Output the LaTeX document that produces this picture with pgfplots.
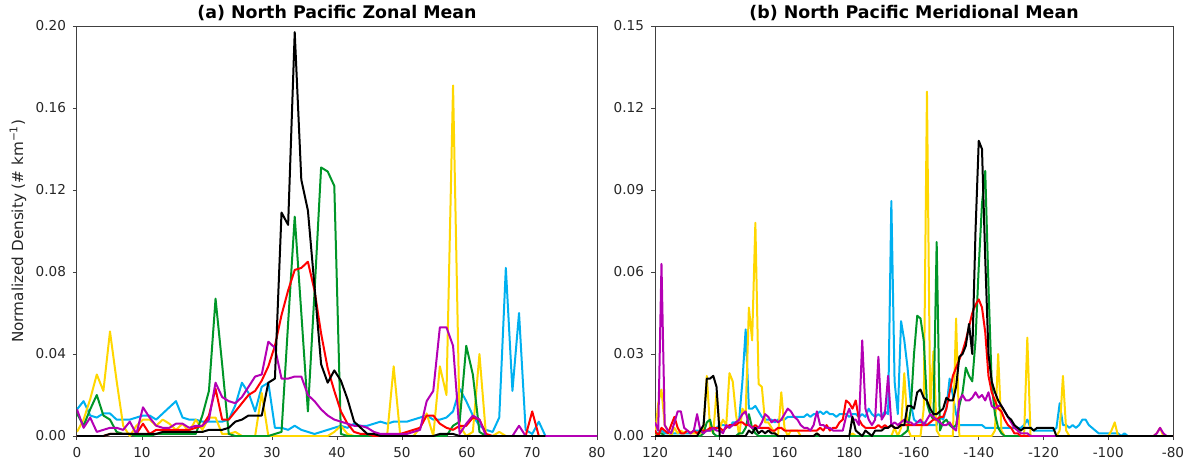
\documentclass[border=0pt]{standalone}
\usepackage{pgfplots}
\usepackage{pgfplotstable}
\pgfplotsset{compat=1.18}
\usepackage{fontspec}
\setmainfont{DejaVu Sans}
\definecolor{cyanc}{RGB}{0,176,240}
\definecolor{yelc}{RGB}{255,215,0}
\definecolor{grc}{RGB}{0,150,40}
\definecolor{rec}{RGB}{255,0,0}
\definecolor{mac}{RGB}{180,0,180}

\pgfplotstableread{
i cy ye gr re ma bk
0 .013 .002 .011 .000 .013 .000
1 .017 .008 .005 .000 .004 .000
2 .010 .018 .013 .000 .009 .000
3 .009 .030 .020 .000 .002 .000
4 .011 .022 .010 .000 .003 .000
5 .011 .051 .008 .001 .004 .001
6 .008 .027 .002 .001 .004 .001
7 .008 .005 .001 .001 .003 .001
8 .008 .000 .001 .001 .007 .001
9 .009 .005 .000 .001 .001 .001
10 .010 .008 .000 .006 .014 .001
11 .010 .008 .000 .001 .009 .001
12 .008 .005 .001 .003 .005 .001
13 .011 .008 .001 .003 .004 .002
14 .014 .006 .001 .003 .004 .002
15 .017 .003 .001 .003 .006 .002
16 .009 .006 .001 .003 .006 .002
17 .008 .002 .001 .003 .004 .002
18 .008 .008 .001 .004 .005 .002
19 .007 .003 .010 .005 .005 .002
20 .007 .009 .022 .010 .008 .003
21 .007 .009 .067 .023 .026 .003
22 .007 .001 .035 .008 .019 .003
23 .008 .001 .001 .008 .017 .004
24 .015 .002 .000 .012 .016 .007
25 .026 .000 .000 .016 .019 .008
26 .021 .000 .000 .020 .024 .010
27 .012 .000 .000 .022 .029 .010
28 .024 .021 .000 .027 .030 .010
29 .026 .000 .000 .034 .046 .026
30 .004 .000 .001 .044 .043 .028
31 .004 .000 .002 .059 .028 .109
32 .003 .000 .055 .071 .028 .103
33 .005 .000 .107 .081 .029 .197
34 .003 .000 .060 .082 .029 .125
35 .002 .000 .012 .085 .020 .110
36 .001 .000 .070 .071 .017 .073
37 .002 .000 .131 .050 .013 .035
38 .003 .000 .129 .033 .010 .026
39 .004 .002 .122 .022 .008 .032
40 .005 .005 .001 .012 .007 .027
41 .004 .001 .000 .006 .006 .018
42 .006 .000 .000 .002 .005 .007
43 .005 .000 .000 .001 .005 .004
44 .005 .000 .000 .001 .004 .001
45 .006 .000 .000 .000 .002 .001
46 .007 .000 .000 .000 .001 .000
47 .006 .000 .000 .000 .001 .000
48 .007 .034 .000 .000 .001 .000
49 .007 .000 .000 .001 .001 .000
50 .007 .000 .000 .002 .001 .000
51 .008 .000 .000 .003 .002 .000
52 .009 .004 .000 .004 .003 .000
53 .010 .011 .000 .010 .017 .000
54 .008 .000 .000 .010 .022 .000
55 .008 .034 .000 .006 .053 .001
56 .009 .020 .000 .004 .053 .001
57 .012 .171 .005 .003 .044 .001
58 .023 .005 .007 .005 .001 .000
59 .017 .000 .044 .005 .006 .000
60 .010 .002 .030 .009 .010 .000
61 .005 .040 .002 .008 .008 .000
62 .003 .000 .000 .001 .000 .000
63 .002 .000 .000 .000 .000 .000
64 .009 .002 .000 .000 .000 .000
65 .082 .000 .000 .000 .000 .000
66 .022 .000 .000 .000 .000 .000
67 .060 .000 .000 .000 .005 .000
68 .003 .000 .000 .000 .000 .000
69 .001 .000 .000 .012 .000 .000
70 .007 .000 .000 .000 .000 .000
71 .000 .000 .000 .000 .000 .000
72 nan nan nan nan .000 nan
73 nan nan nan nan .000 nan
74 nan nan nan nan .000 nan
75 nan nan nan nan .000 nan
76 nan nan nan nan .000 nan
77 nan nan nan nan .000 nan
78 nan nan nan nan .000 nan
79 nan nan nan nan .000 nan
}\leftdata

\pgfplotstableread{
lon cy ye gr re ma bk
120 .003 .000 .001 .002 .005 .000
121 .002 .012 .001 .000 .002 .000
122 .002 .017 .001 .003 .063 .000
123 .001 .004 .000 .002 .004 .000
124 .001 .002 .000 .001 .002 .000
125 .001 .000 .000 .004 .001 .000
126 .001 .003 .000 .007 .005 .000
127 .001 .001 .000 .003 .009 .000
128 .001 .002 .000 .001 .009 .000
129 .001 .001 .000 .001 .003 .000
130 .001 .002 .000 .002 .002 .000
131 .001 .001 .000 .001 .001 .000
132 .002 .001 .000 .002 .002 .000
133 .002 .001 .000 .001 .008 .000
134 .002 .001 .000 .002 .002 .002
135 .002 .003 .001 .002 .001 .004
136 .002 .022 .005 .002 .002 .021
137 .002 .003 .006 .003 .002 .021
138 .002 .001 .001 .003 .003 .022
139 .003 .016 .000 .003 .002 .018
140 .004 .003 .000 .003 .002 .000
141 .004 .006 .000 .002 .001 .000
142 .004 .004 .000 .003 .004 .000
143 .003 .023 .000 .004 .003 .000
144 .005 .020 .000 .004 .004 .000
145 .005 .008 .000 .004 .005 .000
146 .006 .000 .001 .005 .006 .000
147 .020 .010 .001 .005 .008 .000
148 .039 .008 .003 .004 .009 .000
149 .010 .047 .008 .004 .004 .002
150 .010 .035 .003 .003 .003 .001
151 .011 .078 .001 .004 .003 .003
152 .009 .019 .000 .003 .003 .001
153 .007 .018 .000 .003 .005 .002
154 .006 .005 .000 .003 .008 .001
155 .006 .005 .000 .003 .007 .002
156 .006 .003 .000 .002 .005 .001
157 .005 .001 .000 .002 .006 .001
158 .006 .000 .000 .003 .005 .000
159 .006 .016 .000 .003 .006 .000
160 .006 .003 .000 .002 .008 .000
161 .007 .000 .000 .002 .010 .000
162 .007 .002 .000 .002 .009 .000
163 .007 .002 .000 .002 .007 .000
164 .007 .002 .000 .002 .006 .000
165 .007 .000 .000 .002 .004 .000
166 .007 .000 .000 .002 .003 .000
167 .008 .000 .000 .002 .003 .000
168 .007 .000 .000 .002 .002 .000
169 .008 .000 .000 .002 .004 .000
170 .008 .001 .000 .002 .009 .001
171 .009 .000 .000 .003 .004 .000
172 .008 .000 .000 .002 .004 .000
173 .009 .000 .000 .004 .003 .000
174 .008 .000 .000 .002 .003 .000
175 .008 .000 .000 .003 .002 .000
176 .007 .000 .000 .003 .002 .000
177 .008 .000 .000 .005 .002 .000
178 .008 .000 .000 .006 .002 .000
179 .008 .000 .000 .013 .007 .000
180 .007 .000 .000 .012 .010 .000
181 .008 .001 .000 .010 .006 .007
182 .008 .000 .000 .013 .006 .002
183 .007 .000 .000 .006 .004 .001
184 .008 .000 .000 .004 .035 .000
185 .007 .000 .000 .003 .010 .002
186 .010 .000 .000 .003 .006 .001
187 .008 .000 .000 .003 .004 .000
188 .007 .000 .000 .003 .006 .002
189 .008 .000 .000 .004 .029 .002
190 .007 .000 .000 .003 .006 .002
191 .009 .000 .000 .004 .008 .003
192 .008 .000 .000 .003 .022 .003
193 .086 .000 .000 .004 .004 .004
194 .020 .003 .000 .003 .005 .003
195 .008 .000 .000 .003 .004 .003
196 .042 .003 .000 .004 .005 .004
197 .035 .023 .001 .004 .006 .004
198 .025 .003 .002 .004 .005 .011
199 .012 .000 .010 .004 .005 .011
200 .006 .000 .030 .004 .004 .010
201 .005 .000 .044 .004 .005 .016
202 .005 .000 .043 .004 .006 .017
203 .005 .010 .035 .004 .004 .014
204 .004 .126 .012 .004 .006 .013
205 .004 .010 .008 .005 .008 .010
206 .004 .031 .006 .006 .007 .008
207 .004 .002 .071 .006 .006 .008
208 .007 .000 .002 .007 .005 .009
209 .006 .000 .005 .007 .004 .010
210 .010 .000 .006 .010 .004 .014
211 .021 .000 .004 .016 .005 .013
212 .015 .000 .003 .022 .003 .013
213 .008 .043 .004 .025 .002 .018
214 .004 .000 .011 .028 .013 .029
215 .004 .000 .016 .031 .015 .030
216 .004 .000 .025 .035 .013 .033
217 .004 .000 .022 .040 .013 .041
218 .004 .000 .020 .045 .014 .030
219 .004 .000 .035 .048 .016 .075
220 .004 .000 .062 .050 .014 .108
221 .004 .000 .085 .047 .015 .105
222 .003 .000 .097 .038 .013 .065
223 .003 .000 .055 .022 .016 .030
224 .003 .000 .019 .016 .011 .020
225 .003 .002 .008 .013 .010 .016
226 .003 .030 .003 .010 .011 .013
227 .003 .002 .001 .009 .011 .011
228 .003 .000 .000 .006 .009 .009
229 .003 .000 .000 .004 .007 .007
230 .003 .000 .000 .003 .005 .006
231 .003 .000 .000 .001 .003 .004
232 .003 .000 .000 .001 .002 .003
233 .003 .000 .000 .000 .001 .002
234 .004 .000 .000 .000 .001 .003
235 .006 .036 .000 .000 .001 .003
236 .003 .000 .000 .000 .000 .003
237 .002 .000 .000 .000 .000 .002
238 .002 .000 .000 .000 .000 .003
239 .002 .000 .000 .000 .000 .003
240 .002 .000 .000 .000 .000 .003
241 .002 .000 .000 .000 .000 .003
242 .002 .000 .000 .000 .000 .003
243 .002 .000 .000 .000 .000 .003
244 .003 .000 .000 .000 .000 .000
245 .012 .002 .000 .000 .000 .000
246 .004 .022 .000 .000 .000 .000
247 .004 .002 .000 .000 .000 .000
248 .003 .000 .000 .000 .000 .000
249 .004 .000 .000 .000 .000 .000
250 .003 .000 .000 .000 .000 .000
251 .004 .000 .000 .000 .000 .000
252 .006 .000 .000 .000 .000 .000
253 .006 .000 .000 .000 .000 .000
254 .004 .000 .000 .000 .000 .000
255 .003 .000 .000 .000 .000 .000
256 .002 .000 .000 .000 .000 .000
257 .001 .000 .000 .000 .000 .000
258 .001 .000 .000 .000 .000 .000
259 .001 .000 .000 .000 .000 .000
260 .001 .000 .000 .000 .000 .000
261 .001 .002 .000 .000 .000 .000
262 .001 .005 .000 .000 .000 .000
263 .001 .000 .000 .000 .000 .000
264 .000 .000 .000 .000 .000 .000
265 .001 .000 .000 .000 .000 .000
266 .000 .000 .000 .000 .000 .000
267 .000 .000 .000 .000 .000 .000
268 .000 .000 .000 .000 .000 .000
269 .000 .000 .000 .000 .000 .000
270 .000 .000 .000 .000 .000 .000
271 .000 .000 .000 .000 .000 .000
272 .000 .000 .000 .000 .000 .000
273 .000 .000 .000 .000 .000 .000
274 .000 .000 .000 .000 .000 .000
275 .000 .001 .000 .000 .001 .000
276 .000 .003 .000 .000 .003 .000
277 .000 .000 .000 .000 .001 .000
278 .000 .000 .000 .000 .000 .000
279 .000 .000 .000 .000 .000 .000
280 .000 .000 .000 .000 .000 .000
}\rightdata

\pgfplotsset{
  npstyle/.style={
    scale only axis,
    height=205pt,
    ymin=0,
    axis line style={black!75, line width=0.5pt},
    tick style={black!75, line width=0.5pt},
    tick align=outside,
    major tick length=2pt,
    xtick pos=bottom, ytick pos=left,
    tick label style={font=\fontsize{6.8}{8}\selectfont, text=black!85},
    title style={font=\fontsize{8.7}{10}\selectfont\bfseries, at={(0.5,1)}, anchor=south, yshift=-7pt},
    /pgf/number format/assume math mode=true,
    yticklabel style={/pgf/number format/.cd, fixed, fixed zerofill, precision=2},
    every axis plot/.append style={line width=1pt, line join=round, no markers},
    clip=true,
  }
}

\begin{document}
\begin{tikzpicture}
\useasboundingbox (-38.5pt,-13pt) rectangle (555.5pt,218pt);
\begin{axis}[npstyle,
  at={(0,0)}, anchor=south west,
  width=260pt,
  xmin=0, xmax=80, ymax=0.20,
  xtick={0,10,...,80},
  ytick={0,0.04,0.08,0.12,0.16,0.20},
  title={(a) North Pacific Zonal Mean},
  ylabel={Normalized Density (\# km\textsuperscript{−1})},
  ylabel style={at={(axis description cs:-0.1135,0.5)}, anchor=center, font=\fontsize{7.6}{9}\selectfont, text=black!85},
]
\addplot[cyanc] table[x expr=\thisrow{i}*1.015, y=cy] {\leftdata};
\addplot[yelc] table[x expr=\thisrow{i}*1.015, y=ye] {\leftdata};
\addplot[grc] table[x expr=\thisrow{i}*1.015, y=gr] {\leftdata};
\addplot[rec] table[x expr=\thisrow{i}*1.015, y=re] {\leftdata};
\addplot[mac] table[x expr=\thisrow{i}*1.015, y=ma] {\leftdata};
\addplot[black] table[x expr=\thisrow{i}*1.015, y=bk] {\leftdata};
\end{axis}
\begin{axis}[npstyle,
  at={(289pt,0)}, anchor=south west,
  width=259pt,
  xmin=120, xmax=280, ymax=0.15,
  xtick={120,140,...,280},
  xticklabels={120,140,160,180,-160,-140,-120,-100,-80},
  ytick={0,0.03,0.06,0.09,0.12,0.15},
  title={(b) North Pacific Meridional Mean},
]
\addplot[cyanc] table[x=lon, y=cy] {\rightdata};
\addplot[yelc] table[x=lon, y=ye] {\rightdata};
\addplot[grc] table[x=lon, y=gr] {\rightdata};
\addplot[rec] table[x=lon, y=re] {\rightdata};
\addplot[mac] table[x=lon, y=ma] {\rightdata};
\addplot[black] table[x=lon, y=bk] {\rightdata};
\end{axis}
\end{tikzpicture}
\end{document}
